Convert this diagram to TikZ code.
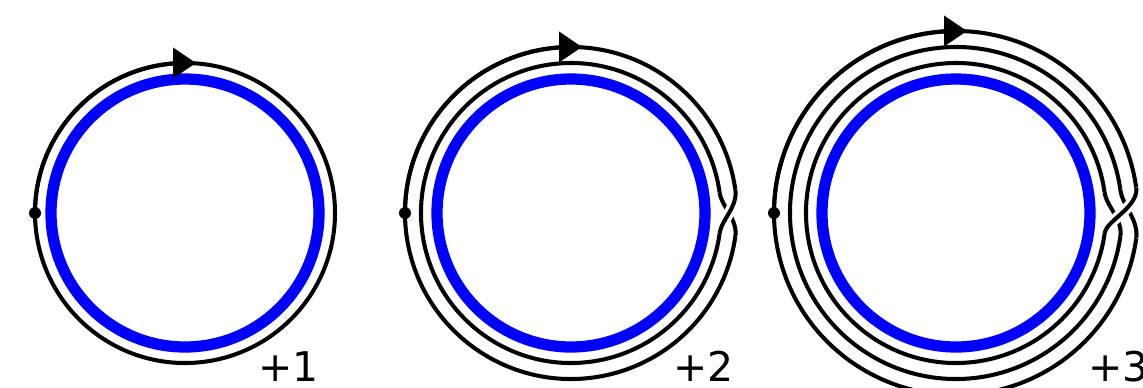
\documentclass[tikz,border=0pt]{standalone}
\usepackage{fontspec}
\setmainfont{DejaVu Sans}
\usepackage{tikz}
\usetikzlibrary{arrows.meta}
\definecolor{Core}{HTML}{0000FF}

\begin{document}
\begin{tikzpicture}[x=0.02cm,y=0.02cm,
    strand/.style={line width=2.3pt,black},
    overstrand/.style={strand,preaction={draw=white,line width=6.2pt}},
    core/.style={line width=6.4pt,draw=Core},
    turnlabel/.style={anchor=base west,inner sep=0pt,font=\fontsize{23.3}{28}\selectfont}
  ]
    \clip (0,0) rectangle (1143,-387);
    \foreach \n/\cx/\lx in {1/185/258,2/571/673,3/956/1088}{
      \coordinate (c\n) at (\cx,-213);
      \draw[core] (c\n) circle[radius=134];
      \foreach \k in {1,...,\n}{
        \pgfmathsetmacro\r{134+16*\k}
        \draw[strand] (c\n) ++(8:\r) arc[start angle=8,end angle=352,radius=\r];
      }
      \foreach \k in {1,...,\n}{
        \pgfmathtruncatemacro\j{mod(\k,\n)+1}
        \pgfmathsetmacro\ra{134+16*\k}
        \pgfmathsetmacro\rb{134+16*\j}
        \draw[overstrand,shift={(c\n)}] plot[domain=8:-8,samples=30,smooth]
          (\x:{\ra+(\rb-\ra)*(1-sin(90*\x/8))/2});
      }
      \pgfmathsetmacro\rn{134+16*\n}
      \draw[strand,-{Triangle[length=0.46cm,width=0.6cm]}] (c\n) ++(180:\rn)
        arc[start angle=180,end angle=90,radius=\rn] -- ++(11,0);
      \fill (c\n) ++(180:\rn) circle[radius=6];
      \node[turnlabel] (turns\n) at (\lx,-381) {+\n};
    }
  \end{tikzpicture}
\end{document}
